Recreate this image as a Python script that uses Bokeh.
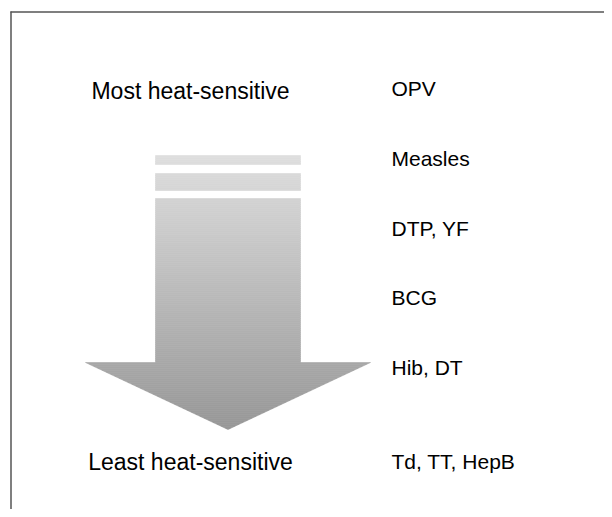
from bokeh.plotting import figure
from bokeh.models import Range1d
from bokeh.core.properties import value
from bokeh.embed import file_html
from bokeh.resources import INLINE

# ---- data ----
vaccines = ["OPV", "Measles", "DTP, YF", "BCG", "Hib, DT", "Td, TT, HepB"]
sensitivity_rank = [1, 2, 3, 4, 5, 6]
end_labels = ["Most heat-sensitive", "Least heat-sensitive"]

# ---- layout (picture pixel coordinates) ----
W, H = 604, 509
label_y = [88, 158, 228, 297, 367, 461]  # y for ranks 1..6
label_x = 391
end_x = 190
end_y = [90, 461]

# arrow geometry
stripes = [(155, 164), (173, 190)]
shaft = (198, 362)
shaft_x = (155, 300)
head_y = (362, 429)
head_half = 142.5
cx = (shaft_x[0] + shaft_x[1]) / 2
grad_top, grad_bot = 222, 150

p = figure(width=W, height=H, x_range=Range1d(0, W), y_range=Range1d(H, 0),
           output_backend="svg", toolbar_location=None, min_border=0)
p.axis.visible = False
p.grid.visible = False
p.outline_line_color = None
p.background_fill_color = "white"

# frame lines (top and left)
p.segment(x0=[10, 10.5], y0=[11.5, 11], x1=[W, 10.5], y1=[11.5, H],
          line_color="#555555", line_width=1.5)


def shade(y):
    t = (y - stripes[0][0]) / (head_y[1] - stripes[0][0])
    g = int(round(grad_top - (grad_top - grad_bot) * t))
    return "#%02x%02x%02x" % (g, g, g)


xs, ys, cols = [], [], []
step = 2.0


def add_band(y0, y1, x_at):
    y = y0
    while y < y1 - 1e-9:
        yb = min(y + step, y1)
        l0, r0 = x_at(y)
        l1, r1 = x_at(yb)
        xs.append([l0, r0, r1, l1])
        ys.append([y, y, yb, yb])
        cols.append(shade((y + yb) / 2))
        y = yb


rect_x = lambda y: shaft_x
for s in stripes:
    add_band(s[0], s[1], rect_x)
add_band(shaft[0], shaft[1], rect_x)


def head_x(y):
    hw = head_half * (head_y[1] - y) / (head_y[1] - head_y[0])
    return (cx - hw, cx + hw)


add_band(head_y[0], head_y[1], head_x)

p.patches(xs=xs, ys=ys, fill_color=cols, line_color=cols, line_width=0.6)

# labels
p.text(x=[end_x] * 2, y=end_y, text=end_labels, text_align="center", text_baseline="middle",
       text_font=value("Liberation Sans"), text_font_size="23px", text_color="black")
p.text(x=[label_x] * len(vaccines), y=[label_y[r - 1] for r in sensitivity_rank], text=vaccines,
       text_align="left", text_baseline="middle",
       text_font=value("Liberation Sans"), text_font_size="21px", text_color="black")

open("out.html", "w").write(file_html(p, INLINE))
